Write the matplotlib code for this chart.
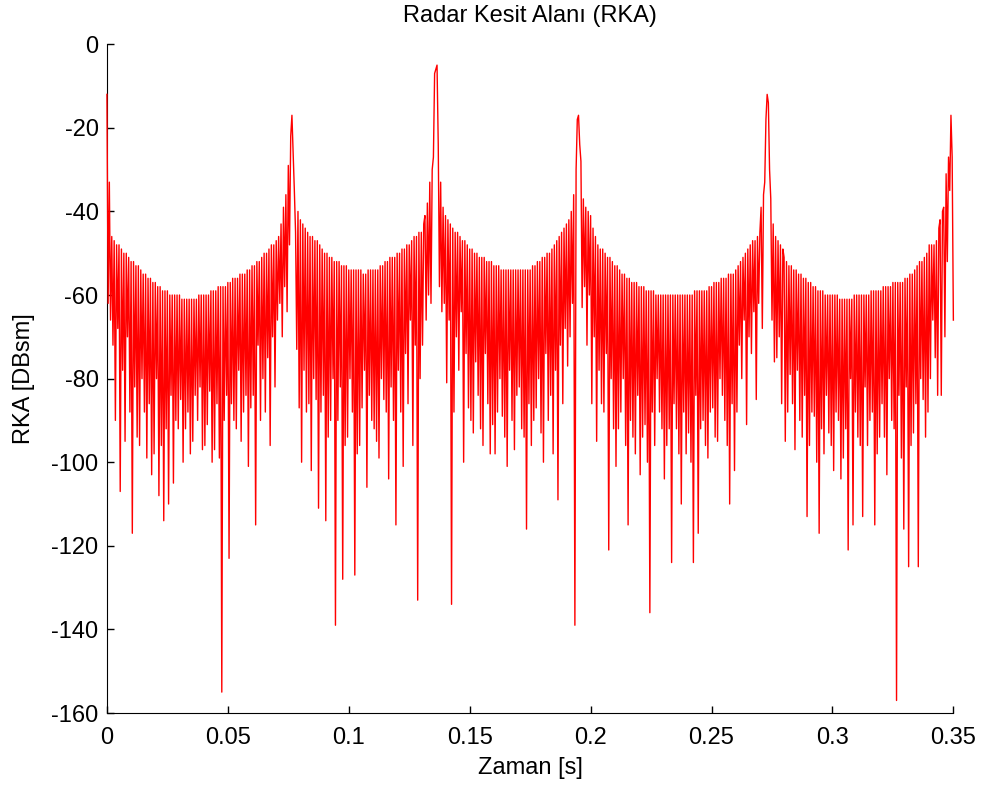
import numpy as np
import matplotlib
matplotlib.use("Agg")
import matplotlib.pyplot as plt
from matplotlib.ticker import FuncFormatter

# sampling step of the time axis [s]
time_step = 0.0005

# radar cross section values [dBsm], one per sample (rows of 0.01 s)
rka_values = [
    -12, -62, -33, -66, -46, -72, -47, -90, -48, -68, -48, -107, -49, -78, -50, -95, -50, -70, -51, -88,
    -52, -117, -52, -82, -53, -94, -53, -96, -54, -80, -55, -88, -55, -99, -56, -86, -56, -103, -57, -98,
    -57, -80, -58, -108, -58, -96, -59, -114, -59, -92, -59, -110, -60, -84, -60, -105, -60, -90, -60, -92,
    -60, -85, -61, -100, -61, -92, -61, -88, -61, -98, -61, -95, -61, -84, -61, -90, -60, -82, -60, -97,
    -60, -96, -60, -91, -60, -83, -59, -100, -59, -97, -59, -86, -58, -99, -58, -155, -58, -90, -58, -84,
    -57, -123, -57, -86, -56, -90, -56, -92, -56, -78, -55, -95, -55, -88, -55, -84, -54, -101, -54, -87,
    -53, -84, -53, -115, -52, -72, -52, -90, -51, -80, -50, -88, -50, -75, -49, -96, -48, -70, -48, -82,
    -47, -66, -46, -62, -43, -70, -39, -58, -36, -64, -29, -48, -22, -17, -26, -35, -45, -73, -40, -87,
    -42, -100, -43, -78, -44, -88, -45, -86, -46, -102, -46, -80, -47, -85, -47, -111, -48, -88, -49, -84,
    -50, -114, -50, -94, -51, -90, -51, -80, -52, -139, -52, -90, -52, -82, -53, -128, -53, -96, -53, -94,
    -54, -80, -54, -88, -54, -127, -54, -98, -54, -96, -54, -87, -55, -78, -55, -106, -54, -84, -54, -90,
    -54, -92, -54, -95, -54, -99, -53, -80, -53, -85, -52, -88, -52, -104, -51, -82, -51, -90, -51, -115,
    -50, -78, -50, -88, -49, -101, -49, -74, -48, -86, -48, -66, -47, -96, -46, -72, -46, -133, -45, -80,
    -45, -72, -43, -41, -66, -38, -60, -33, -62, -30, -27, -7, -6, -5, -24, -58, -33, -64, -39, -62,
    -41, -81, -42, -66, -43, -134, -44, -88, -45, -70, -45, -78, -46, -64, -47, -100, -47, -74, -48, -87,
    -49, -90, -49, -93, -50, -76, -50, -84, -51, -92, -51, -96, -51, -74, -52, -86, -52, -98, -52, -91,
    -53, -98, -53, -88, -53, -80, -54, -89, -54, -94, -54, -101, -54, -78, -54, -90, -54, -97, -54, -84,
    -54, -82, -54, -92, -54, -94, -54, -116, -54, -86, -54, -96, -53, -90, -53, -87, -52, -80, -52, -93,
    -51, -100, -51, -74, -50, -90, -50, -84, -49, -98, -48, -78, -47, -109, -46, -72, -45, -86, -44, -68,
    -43, -77, -42, -70, -40, -62, -36, -139, -30, -18, -17, -24, -28, -63, -37, -58, -39, -72, -40, -60,
    -41, -86, -44, -70, -46, -95, -48, -78, -49, -86, -49, -88, -50, -74, -51, -121, -51, -80, -52, -92,
    -53, -101, -53, -92, -54, -88, -55, -80, -55, -96, -56, -115, -56, -90, -57, -94, -57, -98, -57, -84,
    -58, -103, -58, -94, -58, -91, -59, -100, -59, -136, -59, -88, -59, -96, -60, -80, -60, -88, -60, -92,
    -60, -104, -60, -96, -60, -92, -60, -124, -60, -86, -60, -92, -60, -98, -60, -110, -60, -88, -60, -98,
    -60, -93, -60, -100, -60, -124, -59, -84, -59, -117, -59, -92, -59, -90, -59, -96, -59, -99, -58, -88,
    -58, -87, -57, -94, -57, -95, -57, -80, -56, -84, -56, -90, -56, -96, -55, -110, -55, -86, -55, -102,
    -54, -88, -53, -72, -52, -80, -51, -66, -50, -91, -49, -70, -48, -74, -47, -64, -47, -85, -46, -62,
    -45, -39, -68, -36, -33, -18, -12, -14, -30, -37, -66, -43, -76, -46, -75, -47, -70, -48, -86, -49,
    -51, -95, -52, -88, -53, -79, -53, -86, -54, -97, -54, -78, -55, -90, -55, -94, -56, -84, -56, -113,
    -57, -96, -57, -88, -58, -89, -58, -100, -59, -117, -59, -92, -59, -98, -60, -84, -60, -93, -60, -96,
    -60, -102, -60, -88, -60, -90, -61, -104, -61, -99, -61, -92, -61, -121, -61, -80, -61, -115, -60, -88,
    -60, -94, -60, -96, -60, -113, -60, -82, -60, -96, -60, -90, -59, -88, -59, -115, -59, -98, -59, -94,
    -59, -86, -58, -94, -58, -103, -58, -80, -58, -90, -57, -92, -57, -157, -57, -84, -57, -99, -57, -116,
    -56, -82, -56, -125, -55, -96, -55, -93, -54, -86, -53, -125, -52, -80, -52, -85, -51, -94, -50, -88,
    -48, -80, -48, -66, -48, -75, -47, -84, -44, -42, -84, -40, -39, -70, -31, -52, -27, -35, -17, -27,
    -66,
]

# axis ticks
x_ticks = [0, 0.05, 0.1, 0.15, 0.2, 0.25, 0.3, 0.35]
y_ticks = [0, -20, -40, -60, -80, -100, -120, -140, -160]


def rka_plot(values, file_name):
    """
    line plot of the radar cross section against time in the style of a matlab figure
    (no box, ticks pointing inwards) and save it as png
    """

    plt.rcParams['font.family'] = ['Liberation Sans', 'DejaVu Sans']
    plt.rcParams['axes.unicode_minus'] = False

    # time of each sample
    t = np.arange(len(values)) * time_step

    fig = plt.figure(figsize=(9.9, 7.91), dpi=100)
    ax = fig.add_axes([0.108, 0.0986, 0.855, 0.8455])
    # line drawn above the axis lines, as matlab does
    ax.plot(t, values, color='red', linewidth=1.0, zorder=3, clip_on=False)

    ax.set_xlim(0, 0.35)
    ax.set_ylim(-160, 0)
    ax.set_xticks(x_ticks)
    ax.set_yticks(y_ticks)
    ax.xaxis.set_major_formatter(FuncFormatter(lambda v, p: '%g' % round(v, 3)))

    # matlab look: only left and bottom axis, ticks inside
    ax.spines['top'].set_visible(False)
    ax.spines['right'].set_visible(False)
    ax.tick_params(direction='in', length=5, width=1, labelsize=17)
    ax.tick_params(axis='x', pad=10)
    ax.tick_params(axis='y', pad=6)

    ax.set_xlabel('Zaman [s]', fontsize=17, labelpad=6)
    ax.set_ylabel('RKA [DBsm]', fontsize=17, labelpad=12)
    ax.set_title('Radar Kesit Alanı (RKA)', fontsize=17, pad=16)

    fig.savefig(file_name)


rka_plot(rka_values, "out.png")
